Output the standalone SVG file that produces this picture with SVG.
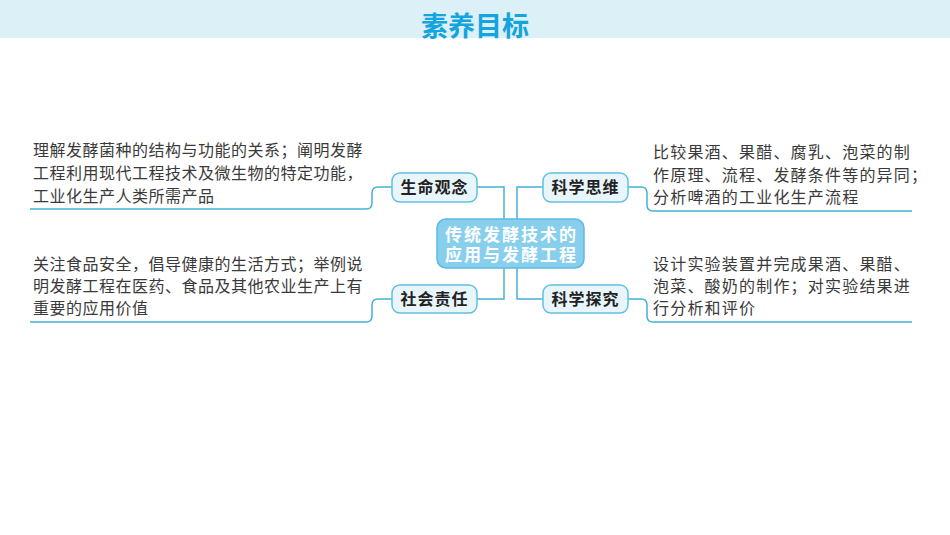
<svg xmlns="http://www.w3.org/2000/svg" width="950" height="535" viewBox="0 0 950 535">
<style>
.bar{fill:#dcf0f8}
.title{font-family:"Noto Sans CJK SC","Noto Sans",sans-serif;font-weight:bold;font-size:27px;fill:#14a4de}
.node rect{fill:#e8f6fb;stroke:#62c0df;stroke-width:1.5}
.node text{font-family:"Noto Sans CJK SC","Noto Sans",sans-serif;font-weight:bold;font-size:16px;fill:#222;letter-spacing:1px}
.center rect{fill:#88cfee;stroke:#5db9e3;stroke-width:1.5}
.center text{font-family:"Noto Sans CJK SC","Noto Sans",sans-serif;font-weight:bold;font-size:17px;fill:#fff;letter-spacing:2px}
.desc{font-family:"Noto Sans CJK SC","Noto Sans",sans-serif;font-size:16px;fill:#3a3a3a}
.l{letter-spacing:0.5px}
.r{letter-spacing:1.2px}
.conn path{fill:none;stroke:#45b2d5;stroke-width:1.5}
</style>
<rect class="bar" x="0" y="0" width="950" height="38"/>
<text class="title" x="475" y="36" text-anchor="middle">素养目标</text>
<g class="conn" id="connectors">
<path d="M477,187 H504 V219"/>
<path d="M504,268 V299 H477"/>
<path d="M543,187 H517 V219"/>
<path d="M517,268 V299 H543"/>
<path d="M392,187 H378 Q372,187 372,193 V203 Q372,209 366,209 H30"/>
<path d="M392,299 H378 Q372,299 372,305 V316 Q372,322 366,322 H30"/>
<path d="M628,187 H641 Q647,187 647,193 V205 Q647,211 653,211 H912"/>
<path d="M628,299 H641 Q647,299 647,305 V316 Q647,322 653,322 H912"/>
</g>
<g id="center" class="center">
<rect x="437" y="219" width="147" height="49" rx="9"/>
<text text-anchor="middle"><tspan x="511.5" y="241">传统发酵技术的</tspan><tspan x="511.5" y="261">应用与发酵工程</tspan></text>
</g>
<g id="shengming" class="node">
<rect x="392" y="173" width="85" height="29" rx="8"/>
<text x="434.5" y="193" text-anchor="middle">生命观念</text>
</g>
<g id="kexuesiwei" class="node">
<rect x="543" y="173" width="85" height="29" rx="8"/>
<text x="585.5" y="193" text-anchor="middle">科学思维</text>
</g>
<g id="shehui" class="node">
<rect x="392" y="285" width="85" height="28" rx="8"/>
<text x="434.5" y="305" text-anchor="middle">社会责任</text>
</g>
<g id="kexuetanjiu" class="node">
<rect x="543" y="285" width="85" height="28" rx="8"/>
<text x="585.5" y="305" text-anchor="middle">科学探究</text>
</g>
<g id="desc-shengming">
<text class="desc l" x="33" y="156">理解发酵菌种的结构与功能的关系；阐明发酵</text>
<text class="desc l" x="33" y="179">工程利用现代工程技术及微生物的特定功能，</text>
<text class="desc l" x="33" y="202">工业化生产人类所需产品</text>
</g>
<g id="desc-shehui">
<text class="desc l" x="33" y="270">关注食品安全，倡导健康的生活方式；举例说</text>
<text class="desc l" x="33" y="292">明发酵工程在医药、食品及其他农业生产上有</text>
<text class="desc l" x="33" y="314">重要的应用价值</text>
</g>
<g id="desc-siwei">
<text class="desc r" x="653" y="158">比较果酒、果醋、腐乳、泡菜的制</text>
<text class="desc r" x="653" y="181">作原理、流程、发酵条件等的异同；</text>
<text class="desc r" x="653" y="203">分析啤酒的工业化生产流程</text>
</g>
<g id="desc-tanjiu">
<text class="desc r" x="653" y="270">设计实验装置并完成果酒、果醋、</text>
<text class="desc r" x="653" y="292">泡菜、酸奶的制作；对实验结果进</text>
<text class="desc r" x="653" y="314">行分析和评价</text>
</g>
</svg>
